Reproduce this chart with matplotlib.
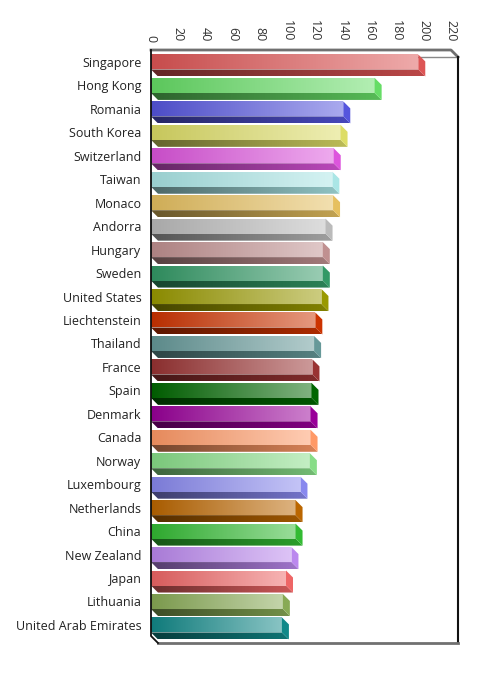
import numpy as np
import matplotlib.pyplot as plt
from matplotlib.patches import Polygon
from matplotlib.colors import to_rgb

plt.rcParams['font.family'] = ['Open Sans', 'DejaVu Sans']

countries = ['Singapore', 'Hong Kong', 'Romania', 'South Korea', 'Switzerland',
             'Taiwan', 'Monaco', 'Andorra', 'Hungary', 'Sweden', 'United States',
             'Liechtenstein', 'Thailand', 'France', 'Spain', 'Denmark', 'Canada',
             'Norway', 'Luxembourg', 'Netherlands', 'China', 'New Zealand', 'Japan',
             'Lithuania', 'United Arab Emirates']
values = [196, 164, 141, 139, 134, 133, 133.5, 128, 126, 126, 125, 120.5, 119.6,
          118.4, 117.7, 117, 117, 116.5, 109.6, 106, 106, 103, 99, 96.7, 96]
colors = ['#dd5555', '#66dd66', '#5555dd', '#dddd66', '#dd55dd', '#aae6e6',
          '#e6c060', '#bbbbbb', '#c09090', '#339966', '#999900', '#cc3300',
          '#669999', '#993333', '#006600', '#990099', '#ff9966', '#88dd88',
          '#8888ee', '#bb6600', '#33bb33', '#bb88ee', '#ee6666', '#88aa55',
          '#118888']
xticks = list(range(0, 221, 20))


def mix(c, other, t):
    c = np.array(to_rgb(c))
    return tuple(c * (1 - t) + np.array(other) * t)


def grad_poly(ax, pts, c1, c2):
    # horizontal gradient clipped to a polygon
    patch = Polygon(pts, closed=True, facecolor='none', edgecolor='none')
    ax.add_patch(patch)
    xs = [p[0] for p in pts]
    ys = [p[1] for p in pts]
    t = np.linspace(0, 1, 128)[None, :, None]
    img = np.array(c1)[None, None, :] * (1 - t) + np.array(c2)[None, None, :] * t
    im = ax.imshow(img, extent=(min(xs), max(xs), max(ys), min(ys)),
                   aspect='auto', interpolation='bilinear', zorder=3)
    im.set_clip_path(patch)


W, H = 482, 677
fig = plt.figure(figsize=(W / 100, H / 100), dpi=100)
ax = fig.add_axes([151 / W, 1 - 643 / H, 300 / W, 593 / H])

ytop, ybot = -0.51, 24.77
dx, dy = 7 * 220 / 300, 7 / 23.46
ax.set_xlim(0, 220)
ax.set_ylim(ybot, ytop)

black, white = (0, 0, 0), (1, 1, 1)

# front plane top edge (hidden behind bars)
ax.plot([dx, 220 + dx], [ytop + dy, ytop + dy], color='#888888', lw=1, zorder=1, clip_on=False)

for i, (v, c) in enumerate(zip(values, colors)):
    top, mid = i - 0.32, i + 0.32
    grad_poly(ax, [(0, top), (v, top), (v, mid), (0, mid)],
              mix(c, black, 0.1), mix(c, white, 0.5))
    grad_poly(ax, [(0, mid), (v, mid), (v + dx, mid + dy), (dx, mid + dy)],
              mix(c, black, 0.55), mix(c, black, 0.15))
    ax.add_patch(Polygon([(v, top), (v + dx, top + dy), (v + dx, mid + dy), (v, mid)],
                         closed=True, facecolor=c, edgecolor='none', zorder=3, clip_on=False))

# box outline
kw = dict(clip_on=False, zorder=5)
ax.plot([0, 220, 220 + dx], [ytop, ytop, ytop + dy], color='#707070', lw=2, **kw)
ax.plot([220 + dx, 220 + dx], [ytop + dy, ybot], color='#111111', lw=1.5, **kw)
ax.plot([dx, 220 + dx], [ybot, ybot], color='#707070', lw=2, **kw)
ax.plot([0, 0, dx], [ytop, ybot - dy, ybot], color='#111111', lw=1.3, **kw)

for s in ax.spines.values():
    s.set_visible(False)

ax.xaxis.tick_top()
ax.set_xticks(xticks)
ax.set_xticklabels([str(t) for t in xticks], rotation=-90, fontsize=9, color='#333333')
ax.set_yticks(range(len(countries)))
ax.set_yticklabels(countries, fontsize=9, color='#222222')
ax.tick_params(axis='both', length=0)
ax.tick_params(axis='x', pad=6)
ax.tick_params(axis='y', pad=7)

fig.savefig('out.png', dpi=100)
